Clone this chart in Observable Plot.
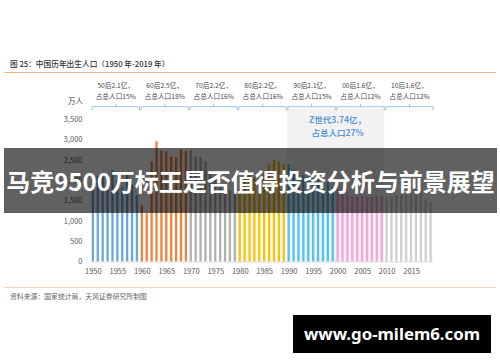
<!DOCTYPE html>
<html><head><meta charset="utf-8">
<script src="https://cdn.jsdelivr.net/npm/d3@7"></script>
<script src="https://cdn.jsdelivr.net/npm/@observablehq/plot@0.6"></script>
<style>
html,body{margin:0;padding:0;background:#fff;}
#wrap{position:relative;width:500px;height:362px;overflow:hidden;background:#fff;font-family:"Noto Sans CJK SC","Noto Sans",sans-serif;}
#wrap svg{position:absolute;left:0;top:0;}
.t{position:absolute;white-space:nowrap;line-height:1;transform:translateY(-50%);}
</style></head>
<body><div id="wrap"></div>
<script>
// ---- data ----
const firstYear = 1950;
const births = [
  2023,2107,2105,2151,2245,1984,1825,2169,1889,1635,
  1389,1189,2451,2954,2721,2704,2577,2563,2757,2715,
  2736,2578,2566,2463,2235,2109,1853,1786,1745,1727,
  1787,2086,2125,2052,2050,2202,2384,2508,2457,2396,
  2391,2258,2119,2126,2104,2063,2067,2038,1942,1834,
  1771,1702,1647,1599,1593,1617,1585,1595,1608,1615,
  1592,1604,1635,1640,1687,1655,1786,1723,1523,1465
];
const decades = ["50后","60后","70后","80后","90后","00后","10后"];
const decadeStart = [1950,1960,1970,1980,1990,2000,2010];
const decadeSize = ["2.1亿","2.5亿","2.2亿","2.2亿","2.1亿","1.6亿","1.6亿"];
const decadeShare = ["15%","18%","16%","16%","15%","12%","12%"];
const decadeColors = ["#6aa6dd","#ef843a","#b0b0b0","#ffc000","#52c2ee","#f2a5d6","#d0d0d0"];
const yTicks = [0,500,1000,1500,2000,2500,3000,3500];
const xTickEvery = 5;
const zGen = {start:1990, end:2009, line1:"Z世代3.74亿，", line2:"占总人口27%"};
const titleText = "图 25：中国历年出生人口（1950 年-2019 年）";
const unitText = "万人";
const sourceText = "资料来源：国家统计局，天风证券研究所制图";
const bannerText = "马竞9500万标王是否值得投资分析与前景展望";
const watermarkText = "www.go-milem6.com";

const rows = births.map((v,i) => {
  const year = firstYear + i;
  const di = decadeStart.findIndex((s,k) => year >= s && (k === decadeStart.length-1 || year < decadeStart[k+1]));
  return {year, births: v, decade: decades[di]};
});
const years = rows.map(d => d.year);

const plot = Plot.plot({
  width: 500, height: 362,
  marginLeft: 90.5, marginRight: 67, marginTop: 119, marginBottom: 100.5,
  style: {fontFamily: '"Noto Sans CJK SC","Noto Sans",sans-serif', fontSize: "7.5px", color: "#595959", background: "transparent", overflow: "visible"},
  x: {type: "band", domain: years, paddingInner: 0.53, paddingOuter: 0.25, tickSize: 0, tickPadding: 7,
      tickFormat: d => d % xTickEvery === 0 ? String(d) : "", label: null},
  y: {domain: [0, 3500], ticks: yTicks, tickFormat: d3.format(","), tickSize: 0, tickPadding: 8.5, label: null},
  color: {type: "ordinal", domain: decades, range: decadeColors},
  marks: [
    Plot.barY(rows, {x: "year", y: "births", fill: "decade"}),
    Plot.ruleY([0], {stroke: "#d9d9d9"})
  ]
});

const wrap = document.getElementById("wrap");
wrap.appendChild(plot);

// ---- annotations positioned through the plot's scales ----
const xs = plot.scale("x"), ys = plot.scale("y");
let band;
if (typeof xs.apply === "function") band = v => xs.apply(v);
else {
  const b = d3.scaleBand().domain(xs.domain).range(xs.range).paddingInner(xs.paddingInner).paddingOuter(xs.paddingOuter).align(xs.align ?? 0.5);
  band = v => b(v);
}
const step = band(firstYear + 1) - band(firstYear);
const yTop = typeof ys.apply === "function" ? ys.apply(3500) : 119;
const yBase = typeof ys.apply === "function" ? ys.apply(0) : 261.5;
const svg = d3.select(plot);

// Z generation box behind bars
const zx1 = band(zGen.start) - 0.7;
const zx2 = band(zGen.end) + step - 1.2;
svg.insert("rect", "g").attr("x", zx1).attr("y", yTop - 10).attr("width", zx2 - zx1).attr("height", yBase - (yTop - 10)).attr("fill", "#f2f2f2");
const zc = (zx1 + zx2) / 2 + 2;
const ag = svg.append("g").attr("font-family", '"Noto Sans CJK SC",sans-serif');
ag.append("text").attr("x", zc).attr("y", yTop + 0.3).attr("dominant-baseline", "central").attr("text-anchor", "middle")
  .attr("font-size", 8.5).attr("font-weight", "bold").attr("fill", "#5b9bd5").text(zGen.line1);
ag.append("text").attr("x", zc).attr("y", yTop + 12.7).attr("dominant-baseline", "central").attr("text-anchor", "middle")
  .attr("font-size", 8.5).attr("font-weight", "bold").attr("fill", "#5b9bd5").text(zGen.line2);

// decade brackets
decadeStart.forEach((s, i) => {
  const x1 = band(s) + 0.4;
  const x2 = band(s) + 10 * step - 1.2;
  const cx = (x1 + x2) / 2;
  const ly = yTop - 12.3;
  const p = `M${x1},${ly + 3.8}V${ly}H${x2}V${ly + 3.8}M${cx},${ly}V${ly - 3}`;
  ag.append("path").attr("d", p).attr("fill", "none").attr("stroke", "#9dc3e6").attr("stroke-width", 1);
  ag.append("text").attr("x", cx).attr("y", yTop - 34.5).attr("dominant-baseline", "central").attr("text-anchor", "middle")
    .attr("font-size", 6.7).attr("fill", "#4a4a4a").text(decades[i] + decadeSize[i] + "，");
  ag.append("text").attr("x", cx).attr("y", yTop - 23).attr("dominant-baseline", "central").attr("text-anchor", "middle")
    .attr("font-size", 6.7).attr("fill", "#4a4a4a").text("占总人口" + decadeShare[i]);
});

// ---- page furniture ----
function addText(txt, left, cy, css) {
  const d = document.createElement("div");
  d.className = "t"; d.textContent = txt;
  d.style.left = left + "px"; d.style.top = cy + "px";
  Object.assign(d.style, css || {});
  wrap.appendChild(d);
  return d;
}
function addBox(css) {
  const d = document.createElement("div");
  d.style.position = "absolute";
  Object.assign(d.style, css);
  wrap.appendChild(d);
  return d;
}
addText(titleText, 10, 64.3, {fontSize: "7.7px", color: "#333", fontWeight: "500"});
addBox({left: "4px", top: "71.5px", width: "492px", height: "1px", background: "#f4b183"});
addText(unitText, 68, 101, {fontSize: "7.5px", color: "#404040"});
addBox({left: "4px", top: "286.5px", width: "492px", height: "1px", background: "#f8d2b2"});
addText(sourceText, 10, 295.7, {fontSize: "6.85px", color: "#666"});

const banner = addBox({left: "4px", top: "148px", width: "493px", height: "65px", background: "rgba(0,0,0,0.62)",
  display: "flex", alignItems: "center", justifyContent: "center", color: "#fff", fontWeight: "bold", fontSize: "24px",
  whiteSpace: "nowrap", lineHeight: "1"});
banner.textContent = bannerText;

const wm = addBox({left: "293px", top: "315px", width: "198px", height: "38px", background: "#000",
  display: "flex", alignItems: "center", justifyContent: "center", color: "#fff", fontWeight: "bold", fontSize: "16.8px",
  fontFamily: '"Noto Sans","Open Sans",sans-serif', whiteSpace: "nowrap", lineHeight: "1"});
wm.textContent = watermarkText;
</script>
</body></html>
